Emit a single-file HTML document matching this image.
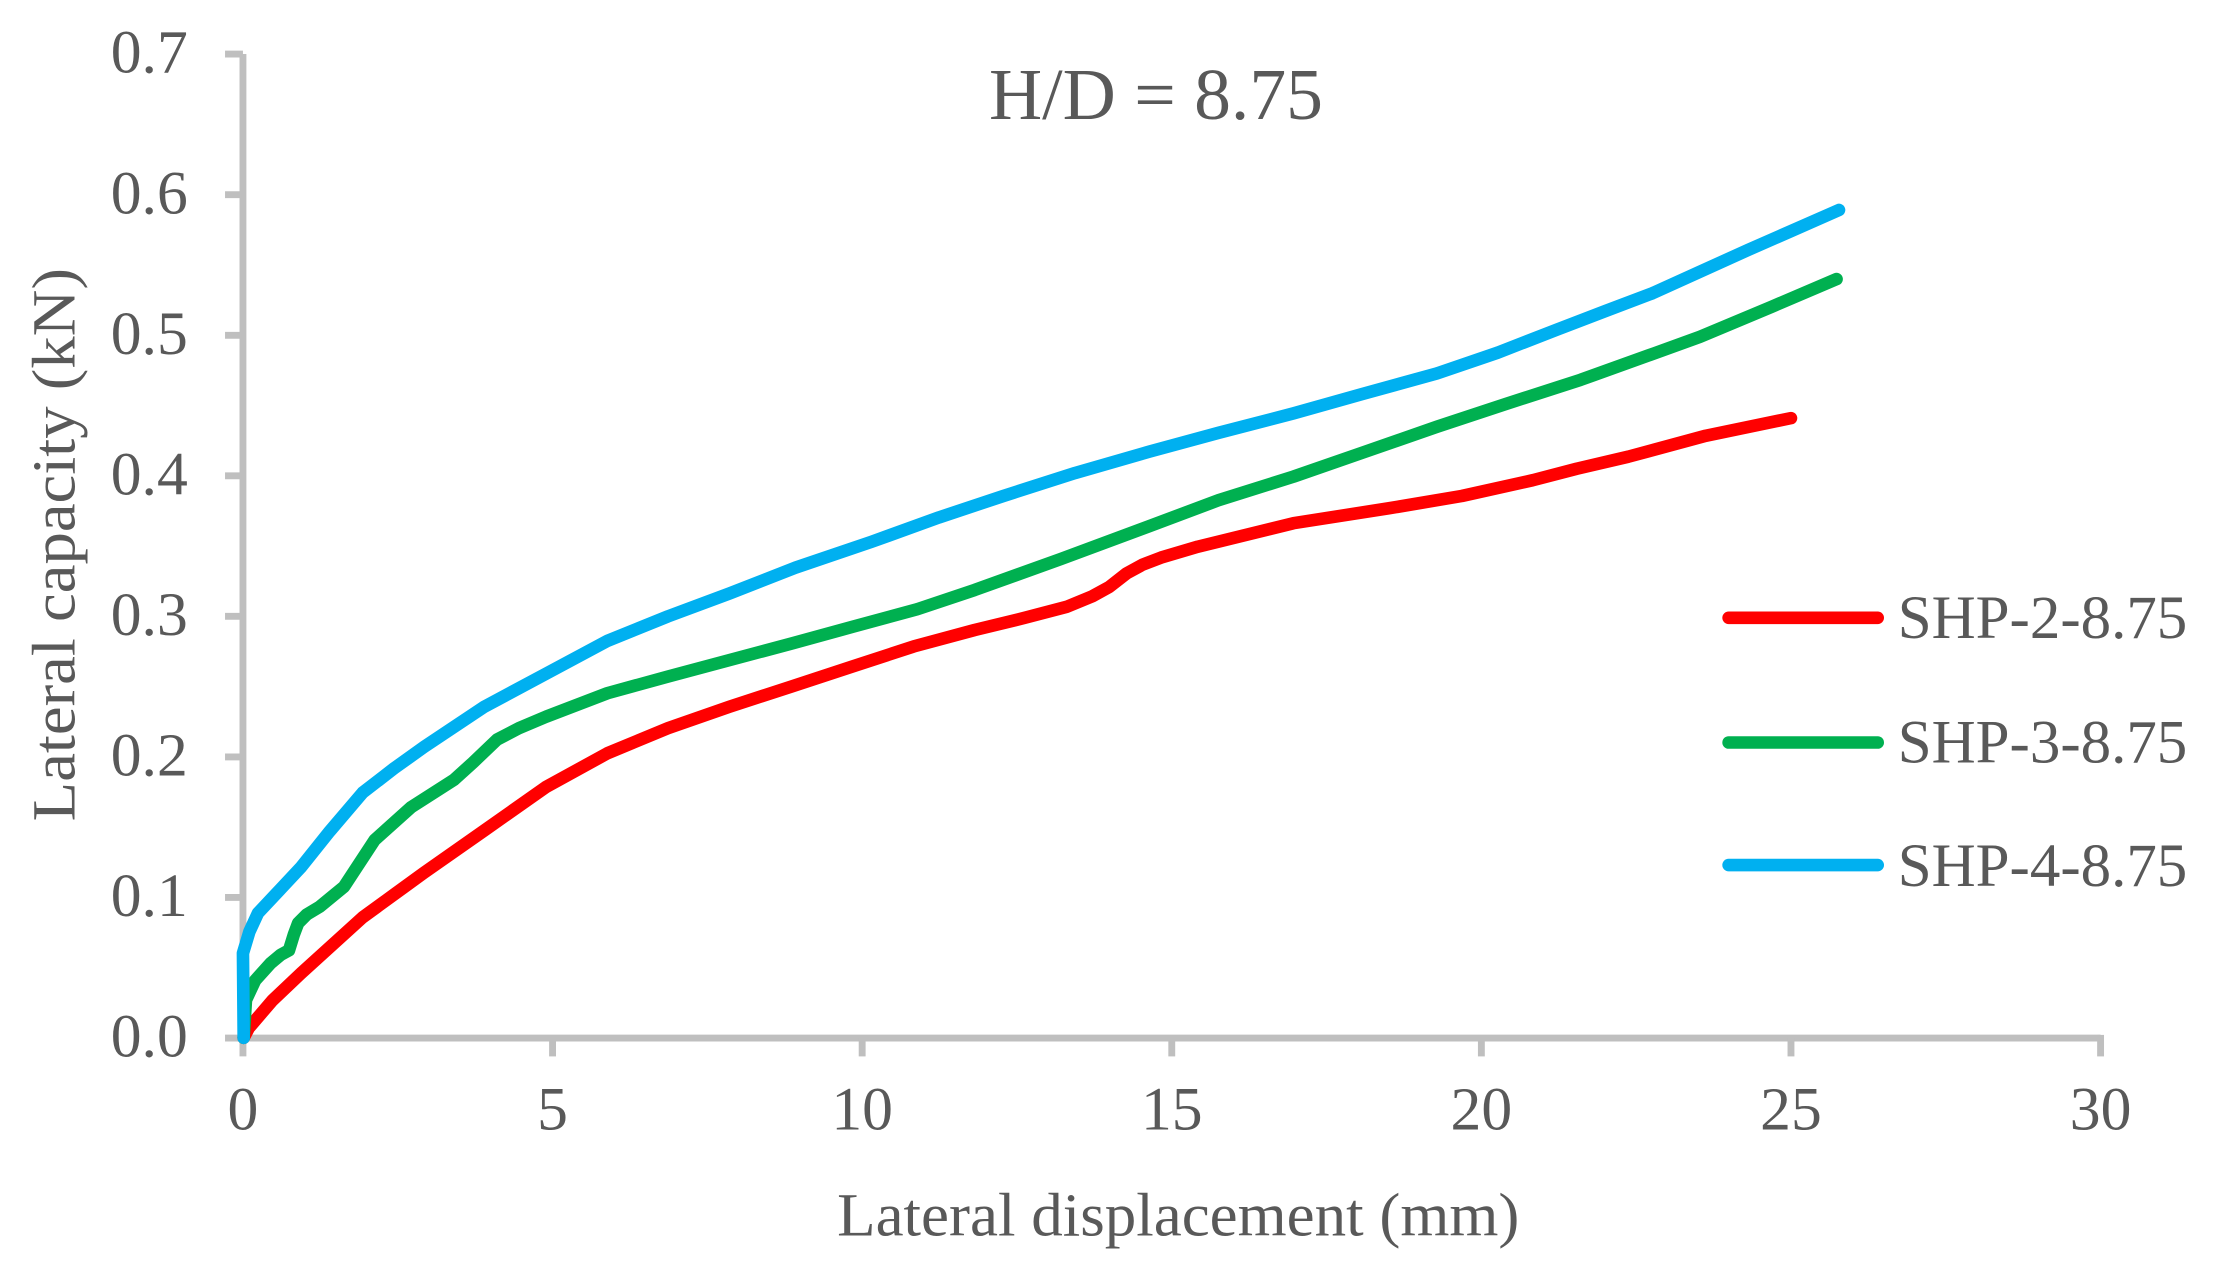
<!DOCTYPE html>
<html><head><meta charset="utf-8"><style>html,body{margin:0;padding:0;background:#fff}svg{display:block}</style></head>
<body>
<svg width="2226" height="1270" viewBox="0 0 1553 886" xmlns="http://www.w3.org/2000/svg" font-family="'Liberation Serif', serif" fill="#595959">
<rect width="1553" height="886" fill="#fff"/>
<g stroke="#bfbfbf" stroke-width="4.8" fill="none">
<line x1="169.5" y1="37.7" x2="169.5" y2="737"/>
<line x1="157" y1="724.2" x2="1465.5" y2="724.2"/>
<line x1="157" y1="37.7" x2="169.5" y2="37.7"/><line x1="157" y1="135.8" x2="169.5" y2="135.8"/><line x1="157" y1="233.9" x2="169.5" y2="233.9"/><line x1="157" y1="331.9" x2="169.5" y2="331.9"/><line x1="157" y1="430" x2="169.5" y2="430"/><line x1="157" y1="528.1" x2="169.5" y2="528.1"/><line x1="157" y1="626.1" x2="169.5" y2="626.1"/>
<line x1="385.5" y1="724" x2="385.5" y2="737"/><line x1="601.5" y1="724" x2="601.5" y2="737"/><line x1="817.5" y1="724" x2="817.5" y2="737"/><line x1="1033.5" y1="724" x2="1033.5" y2="737"/><line x1="1249.5" y1="724" x2="1249.5" y2="737"/><line x1="1465.5" y1="722" x2="1465.5" y2="737"/>
</g>
<g font-size="43" text-anchor="end">
<text x="131" y="50.7">0.7</text><text x="131" y="148.8">0.6</text><text x="131" y="246.9">0.5</text><text x="131" y="344.9">0.4</text><text x="131" y="443">0.3</text><text x="131" y="541.1">0.2</text><text x="131" y="639.1">0.1</text><text x="131" y="737.2">0.0</text>
</g>
<g font-size="43" text-anchor="middle">
<text x="169.5" y="788">0</text><text x="385.5" y="788">5</text><text x="601.5" y="788">10</text><text x="817.5" y="788">15</text><text x="1033.5" y="788">20</text><text x="1249.5" y="788">25</text><text x="1465.5" y="788">30</text>
</g>
<text x="584" y="862" font-size="43" textLength="476" lengthAdjust="spacingAndGlyphs">Lateral displacement (mm)</text>
<text transform="translate(52,380) rotate(-90)" font-size="43" text-anchor="middle" textLength="386" lengthAdjust="spacingAndGlyphs">Lateral capacity (kN)</text>
<text x="690" y="83" font-size="51" textLength="233" lengthAdjust="spacingAndGlyphs">H/D = 8.75</text>
<g fill="none" stroke-width="8.8" stroke-linejoin="round" stroke-linecap="round">
<polyline stroke="#ff0000" points="170,724 173.7,717 190,698 210,679 253,640 295.6,609 338.4,579 381,549 423.8,525.5 466,508 509,493 552,479 594.7,465 637.4,451 680,439.5 715,431 744,423.4 762,416 774,409.4 786,400 797,394 810,389 835.6,381.4 902.4,365 969,354.6 1020,346 1069.4,335 1100,327 1136,318.6 1190,304 1249.5,291.7"/>
<polyline stroke="#00b050" points="170,724 171.6,697.7 178,684 188.8,672 196,666 201.6,663 205,652 208,644 214,638 223,632.6 240,618.6 261.4,586 287,563 316.7,544 330,532 346.7,516 362,508 381,500 423.8,483.6 466,472 509,460.5 552,449 594.7,437.3 640,425 680,411.6 740,390 802,367 850,349 902.4,332.5 950,316 1002.5,297.7 1050,282 1102.7,265 1150,248 1186,235 1236,214 1281.3,194.7"/>
<polyline stroke="#00b0f0" points="170,724 169.5,665 174,650 180,637 195,621 210,605 230,580 253,553 275,536 296,521 338,493 381,470 424,447 466,430 509,414 555,396 608,378 655,361 700,346 750,330 802,315 850,302 902.4,288.4 950,275 1002.5,260.5 1045,246 1086,230 1120,217 1152.8,204.6 1185,190 1219.5,174.4 1250,161 1283,146.5"/>
<line stroke="#ff0000" x1="1206" y1="431" x2="1310" y2="431"/>
<line stroke="#00b050" x1="1206" y1="518" x2="1310" y2="518"/>
<line stroke="#00b0f0" x1="1206" y1="603.5" x2="1310" y2="603.5"/>
</g>
<g font-size="43">
<text x="1324" y="445" textLength="202" lengthAdjust="spacingAndGlyphs">SHP-2-8.75</text><text x="1324" y="532" textLength="202" lengthAdjust="spacingAndGlyphs">SHP-3-8.75</text><text x="1324" y="618" textLength="202" lengthAdjust="spacingAndGlyphs">SHP-4-8.75</text>
</g>
</svg>
</body></html>
